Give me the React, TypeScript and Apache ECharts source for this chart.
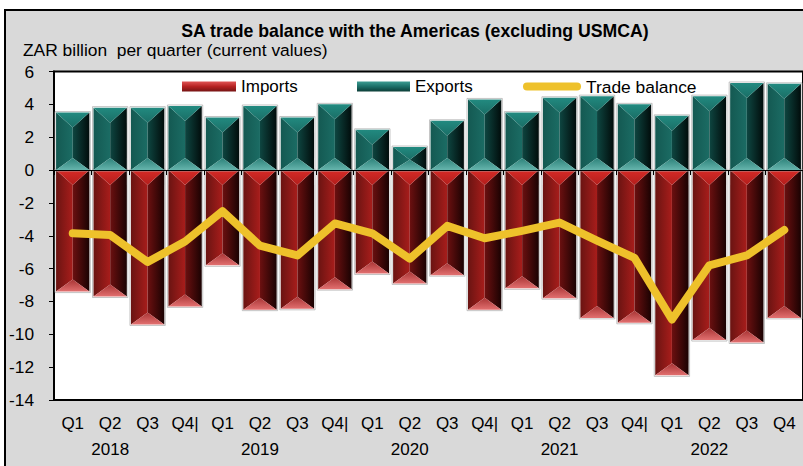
import React, { useEffect, useRef } from "react";
import * as echarts from "echarts";

const quarters = ["Q1", "Q2", "Q3", "Q4|", "Q1", "Q2", "Q3", "Q4|", "Q1", "Q2", "Q3", "Q4|", "Q1", "Q2", "Q3", "Q4|", "Q1", "Q2", "Q3", "Q4"];
const years = ["2018", "2019", "2020", "2021", "2022"];
const exportsData = [3.5, 3.8, 3.8, 3.9, 3.2, 3.9, 3.2, 4.0, 2.45, 1.4, 3.0, 4.3, 3.5, 4.4, 4.5, 4.0, 3.3, 4.5, 5.3, 5.25];
const importsData = [-7.4, -7.7, -9.4, -8.3, -5.8, -8.5, -8.45, -7.25, -6.3, -6.9, -6.4, -8.5, -7.2, -7.8, -9.0, -9.3, -12.5, -10.35, -10.5, -9.0];
const balanceData = [-3.85, -3.95, -5.6, -4.35, -2.5, -4.6, -5.2, -3.25, -3.85, -5.4, -3.4, -4.15, -3.7, -3.2, -4.3, -5.35, -9.1, -5.8, -5.2, -3.65];
const yTicks = { min: -14, max: 6, interval: 2 };

const FONT = '"Liberation Sans", Arial, sans-serif';

const TEAL = {
  top: ["#228a80", "#1a6e66"],
  bot: ["#2c8179", "#66b5ad"],
  left: ["#145952", "#1b6c64"],
  right: ["#0e4641", "#010c0b"],
};
const RED = {
  top: ["#d62a26", "#b21e1c"],
  bot: ["#a83434", "#e27070"],
  left: ["#6a1412", "#a81d1b"],
  right: ["#6c1010", "#1a0202"],
};

function lg(x2: number, y2: number, c: string[]) {
  return new echarts.graphic.LinearGradient(0, 0, x2, y2, [
    { offset: 0, color: c[0] },
    { offset: 1, color: c[1] },
  ]);
}

function bevel(pal: typeof TEAL) {
  return (params: any, api: any) => {
    const i = api.value(0);
    const v = api.value(1);
    const p0 = api.coord([i, 0]);
    const p1 = api.coord([i, v]);
    const w = api.size([1, 0])[0] * 0.89;
    const hw = w / 2;
    const cx = p0[0];
    const yTop = Math.min(p0[1], p1[1]);
    const yBot = Math.max(p0[1], p1[1]);
    const len = yBot - yTop;
    let dT = 15;
    let dB = 12;
    if (dT + dB > len) {
      const k = len / (dT + dB);
      dT *= k;
      dB *= k;
    }
    const xl = cx - hw;
    const xr = cx + hw;
    return {
      type: "group",
      children: [
        {
          type: "rect",
          shape: { x: xl - 1, y: yTop - 1, width: w + 2, height: len + 2 },
          style: { fill: "none", stroke: "rgba(170,170,170,0.7)", lineWidth: 1 },
        },
        {
          type: "polygon",
          shape: { points: [[xl, yTop], [cx, yTop + dT], [cx, yBot - dB], [xl, yBot]] },
          style: { fill: lg(1, 0, pal.left) },
        },
        {
          type: "polygon",
          shape: { points: [[cx, yTop + dT], [xr, yTop], [xr, yBot], [cx, yBot - dB]] },
          style: { fill: lg(1, 0, pal.right) },
        },
        {
          type: "polygon",
          shape: { points: [[xl, yTop], [xr, yTop], [cx, yTop + dT]] },
          style: { fill: lg(0, 1, pal.top) },
        },
        {
          type: "polygon",
          shape: { points: [[xl, yBot], [cx, yBot - dB], [xr, yBot]] },
          style: { fill: lg(0, 1, pal.bot) },
        },
      ],
    };
  };
}

export default function App() {
  const ref = useRef<HTMLDivElement>(null);
  useEffect(() => {
    if (!ref.current) return;
    const chart = echarts.init(ref.current, undefined, { renderer: "svg" });
    const labels = quarters.map((q, i) => (i % 4 === 1 ? q + "\n" + years[Math.floor(i / 4)] : q));
    const impIcon = new echarts.graphic.LinearGradient(0, 0, 0, 1, [
      { offset: 0, color: "#e05454" },
      { offset: 0.5, color: "#b52222" },
      { offset: 1, color: "#761414" },
    ]);
    const expIcon = new echarts.graphic.LinearGradient(0, 0, 0, 1, [
      { offset: 0, color: "#3c9c92" },
      { offset: 0.5, color: "#1c6f68" },
      { offset: 1, color: "#0c3d38" },
    ]);
    const legendText = { fontSize: 17, color: "#000", fontFamily: FONT };
    const option: any = {
      animation: false,
      textStyle: { fontFamily: FONT },
      graphic: [
        {
          type: "text",
          x: 415,
          y: 31,
          style: {
            text: "SA trade balance with the Americas (excluding USMCA)",
            font: `bold 17.7px ${FONT}`,
            fill: "#000",
            align: "center",
            verticalAlign: "middle",
            textAlign: "center",
            textVerticalAlign: "middle",
          },
        },
        {
          type: "text",
          x: 23,
          y: 50,
          style: {
            text: "ZAR billion  per quarter (current values)",
            font: `17.4px ${FONT}`,
            fill: "#000",
            align: "left",
            verticalAlign: "middle",
            textAlign: "left",
            textVerticalAlign: "middle",
          },
        },
      ],
      legend: [
        {
          left: 182,
          top: 78,
          padding: 0,
          itemWidth: 54,
          itemHeight: 10,
          itemGap: 5,
          selectedMode: false,
          textStyle: legendText,
          data: [{ name: "Imports", icon: "rect", itemStyle: { color: impIcon } }],
        },
        {
          left: 357,
          top: 78,
          padding: 0,
          itemWidth: 53,
          itemHeight: 10,
          selectedMode: false,
          textStyle: legendText,
          data: [{ name: "Exports", icon: "rect", itemStyle: { color: expIcon } }],
        },
        {
          left: 523,
          top: 78,
          padding: 0,
          itemWidth: 58,
          itemHeight: 8,
          selectedMode: false,
          textStyle: { ...legendText, fontSize: 17.4 },
          data: [
            {
              name: "Trade balance",
              icon: "path://M4,0 H54 A4,4 0 0 1 54,8 H4 A4,4 0 0 1 4,0 Z",
              itemStyle: { color: "#eec12b" },
            },
          ],
        },
      ],
      grid: {
        left: 54,
        top: 71.5,
        width: 756,
        height: 328.5,
        show: true,
        backgroundColor: "#fff",
        borderColor: "#000",
        borderWidth: 2,
      },
      xAxis: [
        {
          type: "category",
          data: labels,
          position: "bottom",
          axisLine: { show: false, onZero: false },
          axisTick: { show: false },
          axisLabel: {
            interval: 0,
            margin: 11,
            fontSize: 17,
            lineHeight: 25.5,
            color: "#000",
            fontFamily: FONT,
          },
        },
        {
          type: "category",
          data: labels,
          position: "bottom",
          z: 10,
          axisLine: { show: true, onZero: true, lineStyle: { color: "#000", width: 1 } },
          axisTick: { show: true, length: 5, inside: false, lineStyle: { color: "#000", width: 1 } },
          axisLabel: { show: false },
        },
      ],
      yAxis: {
        type: "value",
        min: yTicks.min,
        max: yTicks.max,
        interval: yTicks.interval,
        axisLine: { show: true, onZero: false, lineStyle: { color: "#000", width: 2 } },
        axisTick: { show: true, length: 5, lineStyle: { color: "#000", width: 1 } },
        splitLine: { show: false },
        axisLabel: { fontSize: 17.3, color: "#000", margin: 20, fontFamily: FONT },
      },
      series: [
        {
          name: "Imports",
          type: "custom",
          renderItem: bevel(RED),
          itemStyle: { color: impIcon },
          encode: { x: 0, y: 1 },
          data: importsData.map((v, i) => [i, v]),
          z: 2,
        },
        {
          name: "Exports",
          type: "custom",
          renderItem: bevel(TEAL),
          itemStyle: { color: expIcon },
          encode: { x: 0, y: 1 },
          data: exportsData.map((v, i) => [i, v]),
          z: 2,
        },
        {
          name: "Trade balance",
          type: "line",
          data: balanceData,
          symbol: "none",
          showSymbol: false,
          z: 5,
          itemStyle: { color: "#eec12b" },
          lineStyle: { color: "#eec12b", width: 8, cap: "round", join: "round" },
        },
      ],
    };
    chart.setOption(option);
    return () => chart.dispose();
  }, []);
  return (
    <div style={{ position: "fixed", left: 0, top: 0, width: 803, height: 466, overflow: "hidden", background: "#fff" }}>
      <div
        style={{
          position: "absolute",
          left: 4,
          top: 9,
          width: 830,
          height: 490,
          boxSizing: "border-box",
          border: "2px solid #000",
          background: "#d9d9d9",
        }}
      />
      <div ref={ref} style={{ position: "absolute", left: 0, top: 0, width: 803, height: 466 }} />
    </div>
  );
}
